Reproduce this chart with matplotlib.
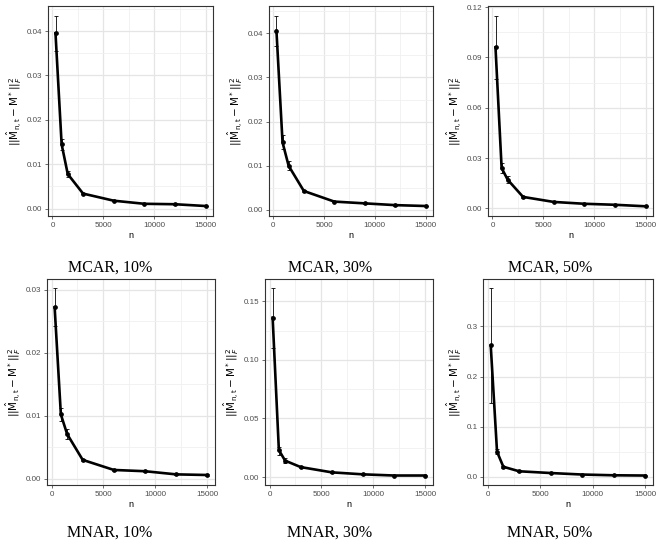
import matplotlib
matplotlib.use("Agg")
import matplotlib.pyplot as plt
from matplotlib.ticker import FixedLocator, FormatStrFormatter
import numpy as np

# sample sizes
n = [300, 900, 1500, 3000, 6000, 9000, 12000, 15000]

# mean error and error bar limits, one set per panel
mcar10 = [0.0395, 0.0145, 0.0078, 0.0034, 0.0018, 0.0011, 0.0010, 0.0006]
mcar10_lo = [0.0355, 0.0133, 0.0071, 0.0032, 0.0017, 0.0010, 0.0009, 0.0005]
mcar10_hi = [0.0435, 0.0157, 0.0085, 0.0036, 0.0019, 0.0012, 0.0011, 0.0007]

mcar30 = [0.0405, 0.0153, 0.0100, 0.0043, 0.0019, 0.0015, 0.0011, 0.0009]
mcar30_lo = [0.0370, 0.0137, 0.0091, 0.0040, 0.0017, 0.0014, 0.0010, 0.0008]
mcar30_hi = [0.0440, 0.0170, 0.0110, 0.0046, 0.0021, 0.0016, 0.0012, 0.0010]

mcar50 = [0.096, 0.024, 0.017, 0.0068, 0.0038, 0.0027, 0.0021, 0.0012]
mcar50_lo = [0.077, 0.021, 0.015, 0.0063, 0.0035, 0.0025, 0.0019, 0.0011]
mcar50_hi = [0.115, 0.027, 0.019, 0.0073, 0.0041, 0.0029, 0.0023, 0.0013]

mnar10 = [0.0272, 0.0102, 0.0071, 0.0030, 0.0014, 0.0012, 0.0007, 0.0006]
mnar10_lo = [0.0243, 0.0092, 0.0063, 0.0028, 0.0013, 0.0011, 0.0006, 0.0005]
mnar10_hi = [0.0302, 0.0113, 0.0079, 0.0032, 0.0015, 0.0013, 0.0008, 0.0007]

mnar30 = [0.136, 0.023, 0.014, 0.0085, 0.0040, 0.0023, 0.0013, 0.0013]
mnar30_lo = [0.110, 0.019, 0.012, 0.0078, 0.0036, 0.0021, 0.0012, 0.0012]
mnar30_hi = [0.161, 0.026, 0.016, 0.0092, 0.0044, 0.0025, 0.0014, 0.0014]

mnar50 = [0.262, 0.050, 0.020, 0.011, 0.0075, 0.0045, 0.0030, 0.0025]
mnar50_lo = [0.148, 0.045, 0.018, 0.010, 0.0070, 0.0042, 0.0028, 0.0023]
mnar50_hi = [0.376, 0.056, 0.022, 0.012, 0.0080, 0.0048, 0.0032, 0.0027]

titles = ["MCAR, 10%", "MCAR, 30%", "MCAR, 50%",
          "MNAR, 10%", "MNAR, 30%", "MNAR, 50%"]
yticks = [[0, 0.01, 0.02, 0.03, 0.04], [0, 0.01, 0.02, 0.03, 0.04],
          [0, 0.03, 0.06, 0.09, 0.12], [0, 0.01, 0.02, 0.03],
          [0, 0.05, 0.10, 0.15], [0, 0.1, 0.2, 0.3]]
yfmt = ["%.2f", "%.2f", "%.2f", "%.2f", "%.2f", "%.1f"]
xticks = [0, 5000, 10000, 15000]

series = [(mcar10, mcar10_lo, mcar10_hi), (mcar30, mcar30_lo, mcar30_hi),
          (mcar50, mcar50_lo, mcar50_hi), (mnar10, mnar10_lo, mnar10_hi),
          (mnar30, mnar30_lo, mnar30_hi), (mnar50, mnar50_lo, mnar50_hi)]

W, H = 662, 548
# panel boxes in pixels: left, right, top, bottom
boxes = [(48, 213, 6, 216), (269, 433, 6, 216), (488, 653, 6, 216),
         (47, 215, 279, 485), (265, 433, 279, 485), (483, 653, 279, 485)]
cap_y = [268, 533]
cap_x = [110, 330, 550]

fig = plt.figure(figsize=(W / 100, H / 100), dpi=100)
ylab = r"$||\hat{\mathrm{M}}_{\mathrm{n,t}}-\mathrm{M}^*||_F^2$"

for i in range(6):
    l, r, t, b = boxes[i]
    ax = fig.add_axes([l / W, 1 - b / H, (r - l) / W, (b - t) / H])
    y, lo, hi = [np.array(s) for s in series[i]]

    ax.errorbar(n, y, yerr=[y - lo, hi - y], fmt="none", ecolor="black",
                elinewidth=0.6, capsize=1.5, capthick=0.6, zorder=3)
    ax.plot(n, y, color="black", lw=1.9, zorder=4)
    ax.plot(n, y, "o", color="black", ms=2.4, zorder=5)

    # ggplot style 5% expansion
    xr = max(n) - min(n)
    ax.set_xlim(min(n) - 0.05 * xr, max(n) + 0.05 * xr)
    ymin, ymax = lo.min(), hi.max()
    yr = ymax - ymin
    ax.set_ylim(ymin - 0.05 * yr, ymax + 0.05 * yr)

    ax.set_xticks(xticks)
    ax.set_yticks(yticks[i])
    ax.yaxis.set_major_formatter(FormatStrFormatter(yfmt[i]))
    yt = yticks[i]
    step = yt[1] - yt[0]
    ax.xaxis.set_minor_locator(FixedLocator([2500, 7500, 12500]))
    ax.yaxis.set_minor_locator(FixedLocator([v + step / 2 for v in yt] + [yt[0] - step / 2]))
    ax.grid(True, which="major", color="#e5e5e5", lw=0.9)
    ax.grid(True, which="minor", color="#f0f0f0", lw=0.6)
    ax.set_axisbelow(True)

    for sp in ax.spines.values():
        sp.set_color("#333333")
        sp.set_linewidth(0.8)
    ax.tick_params(which="major", length=2.5, width=0.5, color="#333333",
                   labelsize=5.8, labelcolor="#4d4d4d", pad=1.5)
    ax.tick_params(which="minor", length=0)
    for lab in ax.get_xticklabels() + ax.get_yticklabels():
        lab.set_family("Liberation Sans")

    ax.set_xlabel("n", fontsize=6.5, family="Liberation Sans", labelpad=2)
    ax.set_ylabel(ylab, fontsize=7.5, labelpad=2)

    row, col = divmod(i, 3)
    fig.text(cap_x[col] / W, 1 - cap_y[row] / H, titles[i], ha="center",
             va="center", fontsize=11.5, family="Liberation Serif")

fig.savefig("out.png", dpi=100)
